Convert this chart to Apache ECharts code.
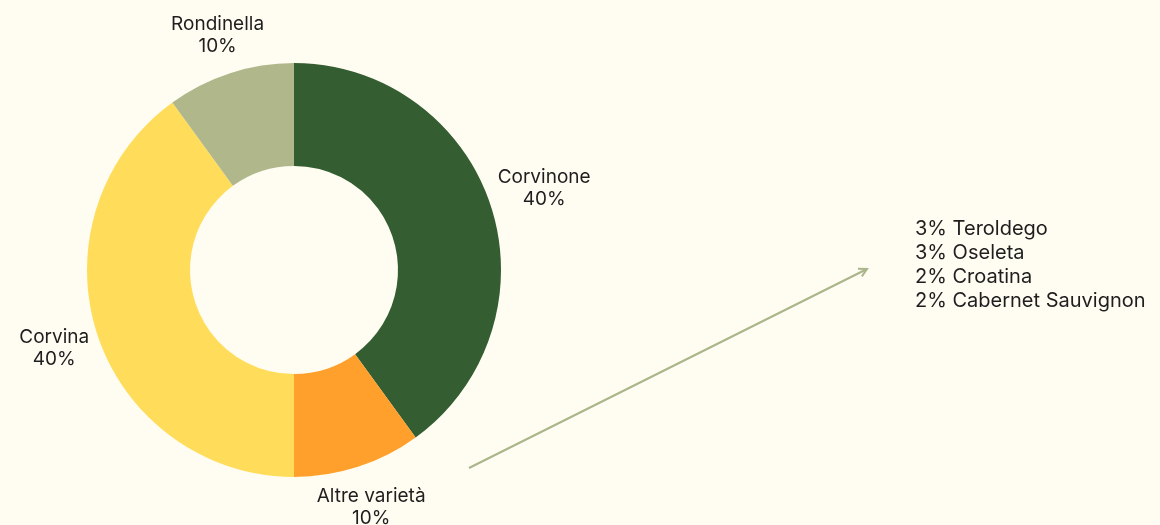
<!DOCTYPE html>
<html>
<head>
<meta charset="utf-8">
<script src="https://cdn.jsdelivr.net/npm/echarts@6/dist/echarts.min.js"></script>
<style>
  html, body { margin: 0; padding: 0; background: #fffcf2; }
  #chart { width: 1160px; height: 525px; }
</style>
</head>
<body>
<div id="chart"></div>
<script>
// grape varieties in the blend
const categories = ['Corvinone', 'Altre varietà', 'Corvina', 'Rondinella'];
const shares = [40, 10, 40, 10];
const sliceColors = ['#345e31', '#ffa02c', '#ffdd5a', '#b0b88b'];

// breakdown of "Altre varietà"
const otherNames = ['Teroldego', 'Oseleta', 'Croatina', 'Cabernet Sauvignon'];
const otherShares = [3, 3, 2, 2];

const cx = 294, cy = 270, rIn = 104, rOut = 207;
const font = 'Inter';

// mid angle of each slice (deg, ccw from +x), clockwise from 12 o'clock
const total = shares.reduce((a, b) => a + b, 0);
let cum = 0;
const midAngles = shares.map(v => {
  const a = 90 - 360 * (cum + v / 2) / total;
  cum += v;
  return a;
});

const chart = echarts.init(document.getElementById('chart'));

// arrow from the "Altre varietà" slice to the breakdown list
const ax0 = 469, ay0 = 468, ax1 = 867, ay1 = 269;
const ang = Math.atan2(ay1 - ay0, ax1 - ax0);
const head = 9;
const arrowColor = '#aab58a';

chart.setOption({
  backgroundColor: '#fffcf2',
  textStyle: { fontFamily: font },
  series: [{
    type: 'pie',
    center: [cx, cy],
    radius: [rIn, rOut],
    startAngle: 90,
    clockwise: true,
    silent: true,
    data: categories.map((c, i) => ({
      name: c,
      value: shares[i],
      itemStyle: { color: sliceColors[i] }
    })),
    label: {
      show: true,
      position: 'outside',
      formatter: '{b}\n{d}%',
      fontSize: 19,
      lineHeight: 22,
      color: '#1e1e1e',
      fontFamily: font,
      overflow: 'none'
    },
    labelLine: { show: false },
    labelLayout: function (p) {
      const a = midAngles[p.dataIndex] * Math.PI / 180;
      const ux = Math.cos(a), uy = -Math.sin(a);
      const w = p.labelRect.width, h = p.labelRect.height;
      const d = rOut + 5 + Math.abs(ux) * w / 2 + Math.abs(uy) * h / 2;
      return { x: cx + ux * d, y: cy + uy * d, align: 'center', verticalAlign: 'middle' };
    }
  }],
  graphic: [
    {
      type: 'polyline',
      shape: { points: [[ax0, ay0], [ax1, ay1]] },
      style: { stroke: arrowColor, lineWidth: 2, fill: null }
    },
    {
      type: 'polyline',
      shape: {
        points: [
          [ax1 - head * Math.cos(ang - 0.5), ay1 - head * Math.sin(ang - 0.5)],
          [ax1, ay1],
          [ax1 - head * Math.cos(ang + 0.5), ay1 - head * Math.sin(ang + 0.5)]
        ]
      },
      style: { stroke: arrowColor, lineWidth: 2, fill: null }
    },
    {
      type: 'text',
      x: 915,
      y: 217,
      style: {
        text: otherNames.map((n, i) => otherShares[i] + '% ' + n).join('\n'),
        fontSize: 20,
        lineHeight: 24,
        fill: '#1e1e1e',
        fontFamily: font,
        verticalAlign: 'top'
      }
    }
  ]
});
</script>
</body>
</html>
